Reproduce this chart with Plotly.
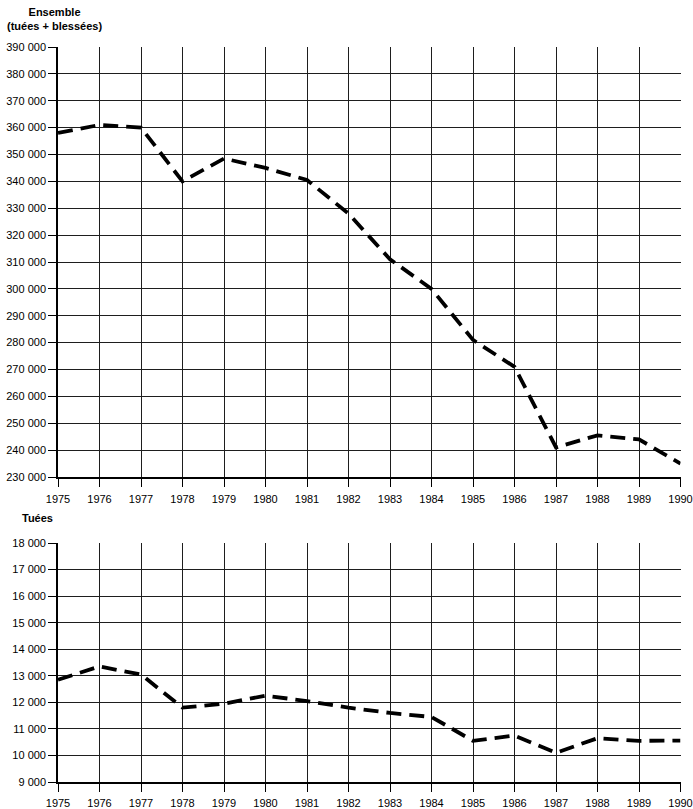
import plotly.graph_objects as go

years = list(range(1975, 1991))
ensemble = [358000, 361000, 360000, 340000, 348500, 345000, 340500, 328000,
            311000, 300000, 281000, 271000, 241000, 245500, 244000, 235000]
tuees = [12850, 13350, 13050, 11800, 11950, 12250, 12050, 11800,
         11600, 11450, 10550, 10750, 10100, 10650, 10550, 10560]

top_ticks = list(range(230000, 390001, 10000))
bot_ticks = list(range(9000, 18001, 1000))

W, H = 693, 809
FONT = "Liberation Sans, Arial, sans-serif"

fig = go.Figure()
line_style = dict(color="black", width=3.8, dash="15px,8px")
fig.add_trace(go.Scatter(x=years, y=ensemble, mode="lines", line=line_style,
                         xaxis="x", yaxis="y", showlegend=False))
fig.add_trace(go.Scatter(x=years, y=tuees, mode="lines", line=line_style,
                         xaxis="x2", yaxis="y2", showlegend=False))

x0 = 58 / W
x1 = 680.5 / W
axis_common = dict(showline=True, linecolor="black", linewidth=1.6,
                   showgrid=True, gridcolor="#1e1e1e", gridwidth=1.1,
                   ticks="outside", tickcolor="black", tickwidth=1.2,
                   zeroline=False, automargin=False, ticklabeloverflow="allow",
                   tickfont=dict(family=FONT, size=11, color="black"))

fig.update_layout(
    width=W, height=H, autosize=False,
    margin=dict(l=0, r=0, t=0, b=0, pad=0, autoexpand=False),
    paper_bgcolor="white", plot_bgcolor="white",
    separators=", ",
    xaxis=dict(domain=[x0, x1], range=[1975, 1990], tickvals=years,
               anchor="y", ticklen=8, ticklabelstandoff=3, **axis_common),
    yaxis=dict(domain=[1 - 477 / H, 1 - 47 / H], range=[230000, 390000],
               tickvals=top_ticks, tickformat=",d", anchor="x", ticklen=8,
               **axis_common),
    xaxis2=dict(domain=[x0, x1], range=[1975, 1990], tickvals=years,
                anchor="y2", ticklen=8, ticklabelstandoff=2, **axis_common),
    yaxis2=dict(domain=[1 - 782 / H, 1 - 543 / H], range=[9000, 18000],
                tickvals=bot_ticks, tickformat=",d", anchor="x2", ticklen=8,
                **axis_common),
    annotations=[
        dict(text="<b>Ensemble</b><br><b>(tuées + blessées)</b>", x=5 / W, y=1 - 4 / H,
             xref="paper", yref="paper", xanchor="left", yanchor="top",
             showarrow=False, align="center",
             font=dict(family=FONT, size=11, color="black")),
        dict(text="<b>Tuées</b>", x=20 / W, y=1 - 510 / H,
             xref="paper", yref="paper", xanchor="left", yanchor="top",
             showarrow=False, font=dict(family=FONT, size=11, color="black")),
    ],
)

fig.write_html("out.html", config={"displayModeBar": False},
               post_script="document.body.style.margin='0';document.body.style.overflow='hidden';")
